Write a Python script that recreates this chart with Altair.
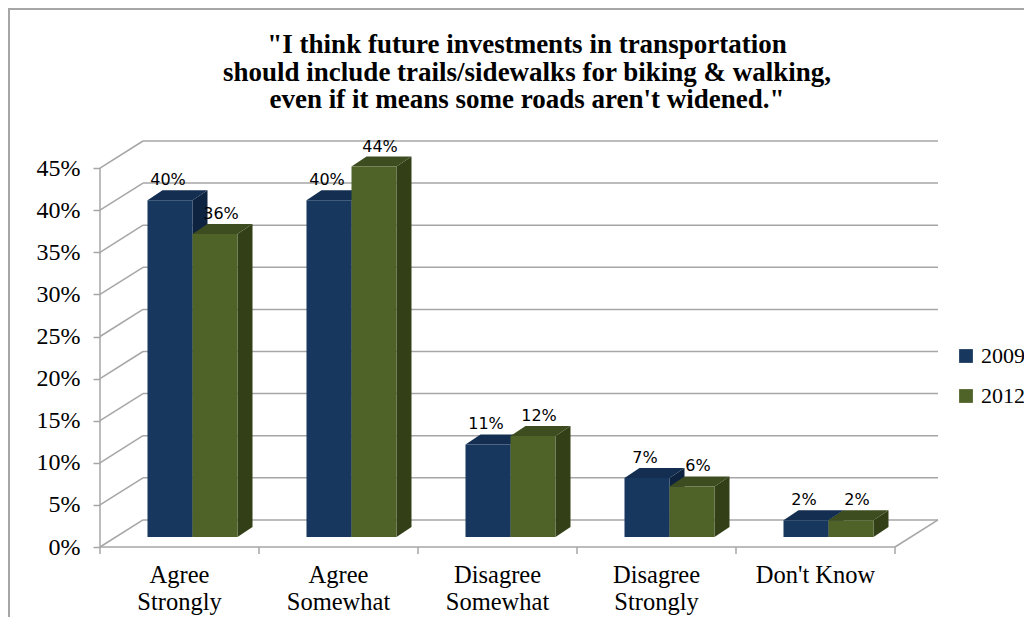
import altair as alt
import pandas as pd

# ---------------- data ----------------
categories = ["Agree\nStrongly", "Agree\nSomewhat", "Disagree\nSomewhat",
              "Disagree\nStrongly", "Don't Know"]
series = ["2009", "2012"]
values_2009 = [40, 40, 11, 7, 2]
values_2012 = [36, 44, 12, 6, 2]
y_ticks = [0, 5, 10, 15, 20, 25, 30, 35, 40, 45]
title_lines = ['"I think future investments in transportation',
               'should include trails/sidewalks for biking & walking,',
               'even if it means some roads aren\'t widened."']

# ---------------- style / geometry ----------------
W, H = 838, 406
PX_X, PX_Y = 159.0, 8.42          # pixels per category, per percent
XMAX, YMAX = W / PX_X, H / PX_Y
NCAT = len(categories)
BACK_X, BACK_Y = XMAX - NCAT, YMAX - max(y_ticks)   # depth of back wall
BAR_W = 45 / PX_X
OX, OY = 13 / PX_X, 10 / PX_Y     # bar front offset from floor front
DX, DY = 15 / PX_X, 10 / PX_Y     # bar depth
LABEL_SHIFT = {"2009": -2 / PX_X, "2012": 6 / PX_X}
GRID = "#A6A6A6"
FRONT = {"2009": "#17375E", "2012": "#4F6228"}
SIDE = {"2009": "#0E2340", "2012": "#323F17"}
TOP = {"2009": "#132E50", "2012": "#3E4D1F"}
SERIF = "Liberation Serif"

xs = alt.Scale(domain=[0, XMAX], nice=False, zero=False)
ys = alt.Scale(domain=[0, YMAX], nice=False, zero=False)
yaxis = alt.Axis(values=y_ticks, labelExpr="datum.value + '%'", domain=False,
                 grid=False, ticks=True, tickSize=7, tickColor=GRID, tickWidth=1.5,
                 labelFont=SERIF, labelFontSize=24, labelColor="black",
                 labelPadding=13, title=None)

# ---------------- tables ----------------
bars, side, top = [], [], []
for s, vals in zip(series, [values_2009, values_2012]):
    for k, v in enumerate(vals):
        center = k + 0.5 + OX
        xl = center - BAR_W if s == "2009" else center
        xr = xl + BAR_W
        bid = f"{s}-{k}"
        bars.append(dict(id=bid, series=s, v=v, xl=xl, xr=xr, yb=OY, yt=v + OY,
                         lx=(xl + xr) / 2 + LABEL_SHIFT[s], ly=v + OY + DY,
                         label=f"{v}%"))
        side.append(dict(id=bid, series=s, sx=xr, sy=v + OY, sy2=OY))
        side.append(dict(id=bid, series=s, sx=xr + DX, sy=v + OY + DY, sy2=OY + DY))
        top.append(dict(id=bid, series=s, ty=v + OY, tx=xl, tx2=xr))
        top.append(dict(id=bid, series=s, ty=v + OY + DY, tx=xl + DX, tx2=xr + DX))
bars = pd.DataFrame(bars)
side = pd.DataFrame(side)
top = pd.DataFrame(top)

grid = pd.DataFrame({"v": y_ticks})
grid["gy"] = grid["v"] + BACK_Y
grid["x0"] = 0.0
grid["xb"] = BACK_X
grid["xe"] = XMAX

floor = pd.DataFrame({
    "x": [0.0, NCAT, 0.0],
    "x2": [float(NCAT), NCAT + BACK_X, 0.0],
    "y": [0.0, 0.0, 0.0],
    "y2": [0.0, BACK_Y, float(max(y_ticks))],
})
xticks = pd.DataFrame({"x": list(range(NCAT + 1))})
cats = pd.DataFrame({"label": categories, "cx": [k + 0.5 for k in range(NCAT)]})
title_df = pd.DataFrame({"t": ["\n".join(title_lines)]})

# ---------------- layers ----------------
def Y(field):
    return alt.Y(field, scale=ys, axis=yaxis)

back_grid = alt.Chart(grid).mark_rule(color=GRID, strokeWidth=1.5).encode(
    x=alt.X("xb:Q", scale=xs, axis=None), x2="xe:Q", y=Y("gy:Q"))
left_diag = alt.Chart(grid).mark_rule(color=GRID, strokeWidth=1.5).encode(
    x=alt.X("x0:Q", scale=xs, axis=None), x2="xb:Q", y=Y("v:Q"), y2="gy:Q")
floor_l = alt.Chart(floor).mark_rule(color=GRID, strokeWidth=1.5).encode(
    x=alt.X("x:Q", scale=xs, axis=None), x2="x2:Q", y=Y("y:Q"), y2="y2:Q")
tick_l = alt.Chart(xticks).mark_rule(color=GRID, strokeWidth=1.5).encode(
    x=alt.X("x:Q", scale=xs, axis=None), y=alt.value(H), y2=alt.value(H + 7))

faces = []
for s in series:
    faces.append(alt.Chart(side[side.series == s]).mark_area(
        color=SIDE[s], opacity=1).encode(
        x=alt.X("sx:Q", scale=xs, axis=None),
        y=Y("sy:Q"), y2="sy2:Q", detail="id:N"))
    faces.append(alt.Chart(top[top.series == s]).mark_area(
        color=TOP[s], opacity=1, orient="horizontal").encode(
        y=Y("ty:Q"),
        x=alt.X("tx:Q", scale=xs, axis=None), x2="tx2:Q", detail="id:N"))

front = alt.Chart(bars).mark_rect().encode(
    x=alt.X("xl:Q", scale=xs, axis=None), x2="xr:Q",
    y=Y("yb:Q"), y2="yt:Q",
    color=alt.Color("series:N",
                    scale=alt.Scale(domain=series, range=[FRONT[s] for s in series]),
                    legend=alt.Legend(orient="none", legendX=855, legendY=204,
                                      title=None, symbolType="square",
                                      symbolSize=190, symbolStrokeWidth=0,
                                      labelFont=SERIF, labelFontSize=22,
                                      labelColor="black", rowPadding=18,
                                      labelOffset=4)))

labels = alt.Chart(bars).mark_text(baseline="alphabetic", dy=-5,
                                   font="DejaVu Sans", fontSize=16,
                                   color="black").encode(
    x=alt.X("lx:Q", scale=xs, axis=None), y=Y("ly:Q"), text="label:N")

cat_text = alt.Chart(cats).mark_text(baseline="top", lineBreak="\n",
                                     font=SERIF, fontSize=24.5, lineHeight=27,
                                     color="black").encode(
    x=alt.X("cx:Q", scale=xs, axis=None), y=alt.value(H + 17), text="label:N")

title_text = alt.Chart(title_df).mark_text(
    baseline="middle", lineBreak="\n", font=SERIF, fontSize=27,
    fontWeight="bold", lineHeight=27.5, color="black").encode(
    x=alt.value(427), y=alt.value(-96), text="t:N")

one = pd.DataFrame({"a": [0]})
frame_left = alt.Chart(one).mark_rule(color="#A6A6A6", strokeWidth=2).encode(
    x=alt.value(-91), y=alt.value(-132), y2=alt.value(H + 120))
frame_top = alt.Chart(one).mark_rule(color="#A6A6A6", strokeWidth=2).encode(
    x=alt.value(-92), x2=alt.value(W + 100), y=alt.value(-132))

chart = alt.layer(
    frame_left, frame_top, back_grid, left_diag, floor_l, tick_l, *faces,
    front, labels, cat_text, title_text
).properties(
    width=W, height=H,
    autosize=alt.AutoSizeParams(type="none"),
    padding={"left": 92, "top": 133, "right": 86, "bottom": 70},
    background="white",
).configure_view(stroke=None)

chart.save("out.html", embed_options={"renderer": "svg", "actions": False})
